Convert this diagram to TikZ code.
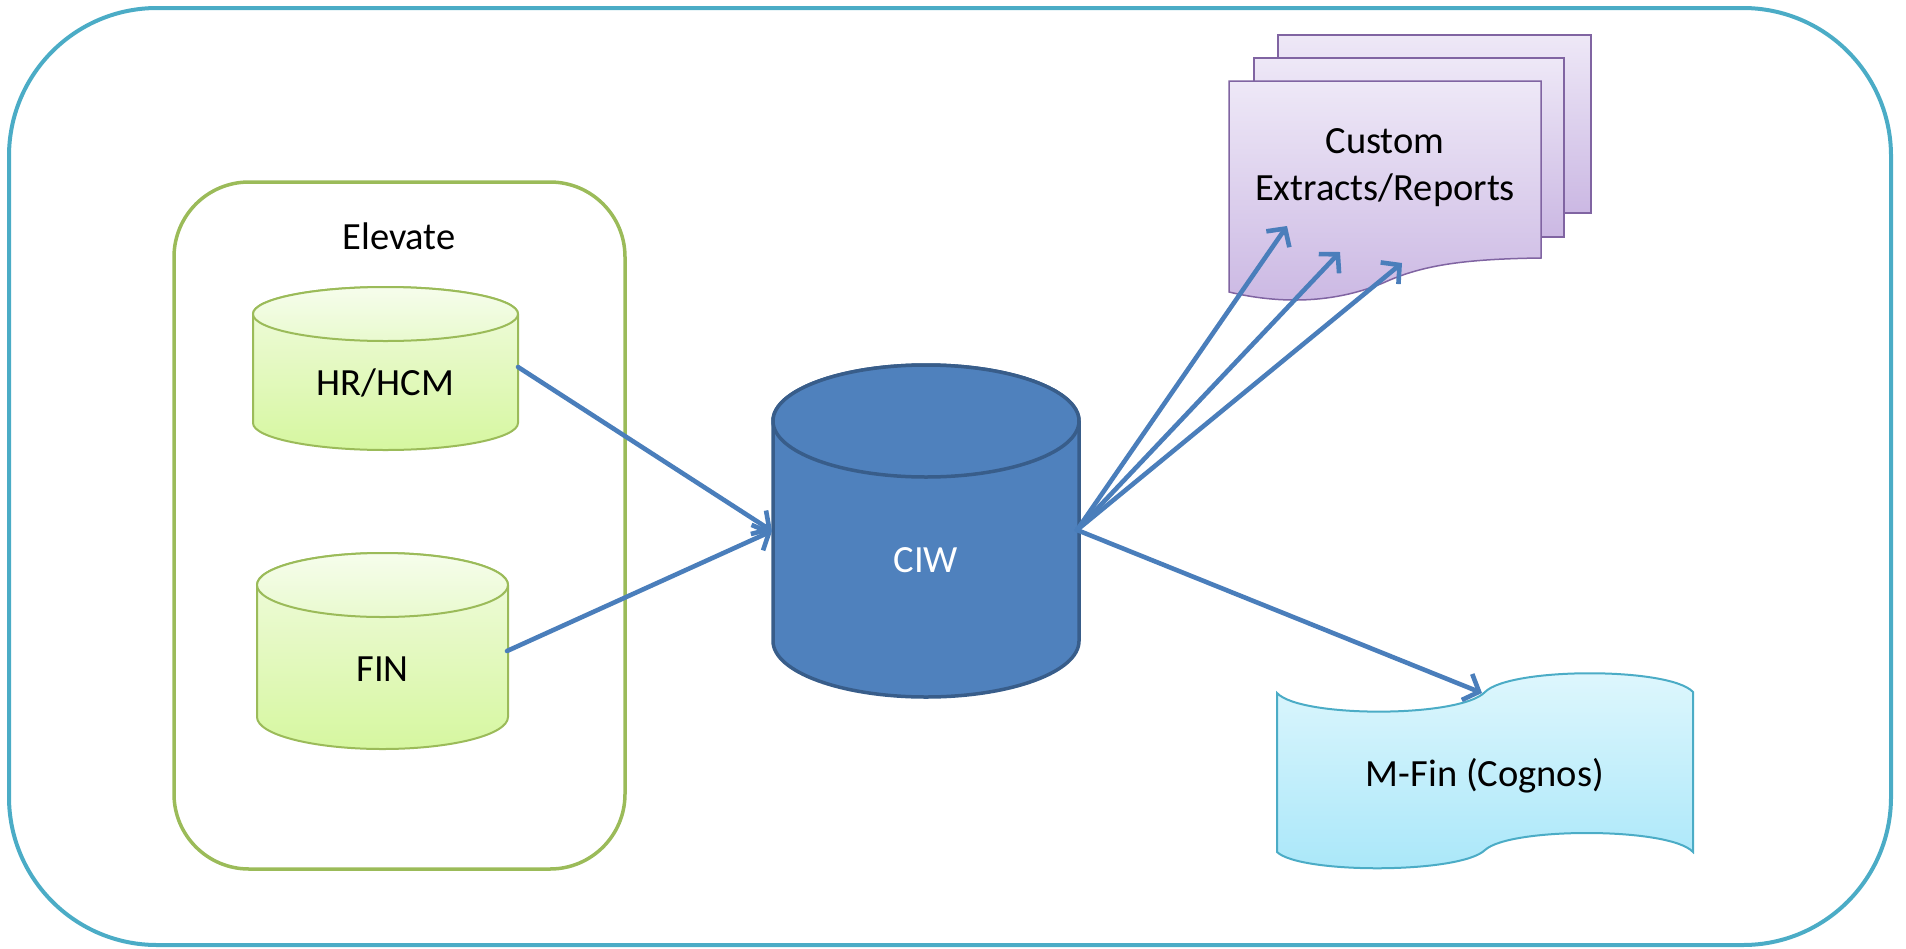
\documentclass[tikz,border=0pt]{standalone}
\usepackage{fontspec}
\setmainfont{Carlito}
\usetikzlibrary{arrows.meta}
\definecolor{outerc}{HTML}{4BACC6}
\definecolor{greenc}{HTML}{9BBB59}
\definecolor{ciwfill}{HTML}{4F81BD}
\definecolor{ciwdraw}{HTML}{385D8A}
\definecolor{arrowc}{HTML}{4A7EBB}
\definecolor{purplec}{HTML}{8064A2}
\definecolor{greentop}{HTML}{F1FBE0}
\definecolor{greenbot}{HTML}{D6F7A0}
\definecolor{greenlid}{HTML}{F6FDEC}
\definecolor{greenlidb}{HTML}{E9FACF}
\definecolor{purptop}{HTML}{EEE8F7}
\definecolor{purpbot}{HTML}{CBB8E3}
\definecolor{cyantop}{HTML}{DFF7FD}
\definecolor{cyanbot}{HTML}{A9E7F9}
\begin{document}
\begin{tikzpicture}[x=1pt,y=-1pt,
  lbl/.style={font=\fontsize{38.5}{46}\selectfont, anchor=base, inner sep=0pt},
  conn/.style={draw=arrowc, line width=4.6pt, line cap=round,
    -{Straight Barb[length=13pt,width=28pt,line width=4.6pt]}},
  dbgreen/.style={draw=greenc, line width=2pt, top color=greentop, bottom color=greenbot},
  lidgreen/.style={draw=greenc, line width=2pt, top color=greenlid, bottom color=greenlidb},
  docpage/.style={draw=purplec, line width=1.5pt, top color=purptop, bottom color=purpbot}]
\useasboundingbox (0,0) rectangle (1906,948);

% outer frame
\draw[outerc, line width=4pt, rounded corners=148pt] (9,8) rectangle (1891,945);

% Elevate group
\draw[greenc, line width=3.5pt, rounded corners=75pt] (174,182) rectangle (625,869);
\node[lbl] (elevate) at (399,249) {Elevate};

% HR/HCM cylinder
\path[dbgreen] (253,314) -- (253,423)
  arc[start angle=180,end angle=360,x radius=132.5pt,y radius=27pt]
  -- (518,314)
  arc[start angle=0,end angle=180,x radius=132.5pt,y radius=27pt] -- cycle;
\path[lidgreen] (385.5,314) ellipse[x radius=132.5pt,y radius=27pt];
\node[lbl] (hr) at (385.5,395) {HR/HCM};

% FIN cylinder
\path[dbgreen] (257,585) -- (257,717)
  arc[start angle=180,end angle=360,x radius=125.5pt,y radius=32pt]
  -- (508,585)
  arc[start angle=0,end angle=180,x radius=125.5pt,y radius=32pt] -- cycle;
\path[lidgreen] (382.5,585) ellipse[x radius=125.5pt,y radius=32pt];
\node[lbl] (fin) at (382.5,681) {FIN};

% CIW cylinder
\path[draw=ciwdraw, line width=3.5pt, fill=ciwfill] (773,421) -- (773,641)
  arc[start angle=180,end angle=360,x radius=153pt,y radius=56pt]
  -- (1079,421)
  arc[start angle=0,end angle=180,x radius=153pt,y radius=56pt] -- cycle;
\path[draw=ciwdraw, line width=3.5pt, fill=ciwfill] (926,421) ellipse[x radius=153pt,y radius=56pt];
\node[lbl, text=white] (ciw) at (926,572) {CIW};

% Custom extracts / reports (multi-document)
\path[docpage] (1278,35) rectangle (1591,213);
\path[docpage] (1254,58) rectangle (1564,237);
\path[docpage] (1229,81) -- (1541,81) -- (1541,258)
  .. controls (1460,259) and (1420,266) .. (1383,283)
  .. controls (1330,305) and (1275,303) .. (1229,292) -- cycle;
\node[lbl] (custom) at (1385,153) {Custom};
\node[lbl] (extracts) at (1385,200) {Extracts/Reports};

% M-Fin (punched tape)
\path[draw=outerc, line width=2pt, top color=cyantop, bottom color=cyanbot]
  (1277,693) .. controls (1300,718) and (1460,718) .. (1485,692)
  .. controls (1510,667) and (1670,667) .. (1693,692)
  -- (1693,852)
  .. controls (1670,827) and (1510,827) .. (1485,850)
  .. controls (1460,874) and (1300,874) .. (1277,852) -- cycle;
\node[lbl] (mfin) at (1485,786) {M-Fin (Cognos)};

% connector end points
\coordinate (hrR) at (518,367);
\coordinate (finR) at (507,651);
\coordinate (ciwL) at (772,531);
\coordinate (ciwR) at (1077,530);
\coordinate (rep1) at (1287,226);
\coordinate (rep2) at (1340,252);
\coordinate (rep3) at (1402,263);
\coordinate (mfinT) at (1482,693);

\draw[conn] (hrR) -- (ciwL);
\draw[conn] (finR) -- (ciwL);
\draw[conn] (ciwR) -- (rep1);
\draw[conn] (ciwR) -- (rep2);
\draw[conn] (ciwR) -- (rep3);
\draw[conn] (ciwR) -- (mfinT);
\end{tikzpicture}
\end{document}
